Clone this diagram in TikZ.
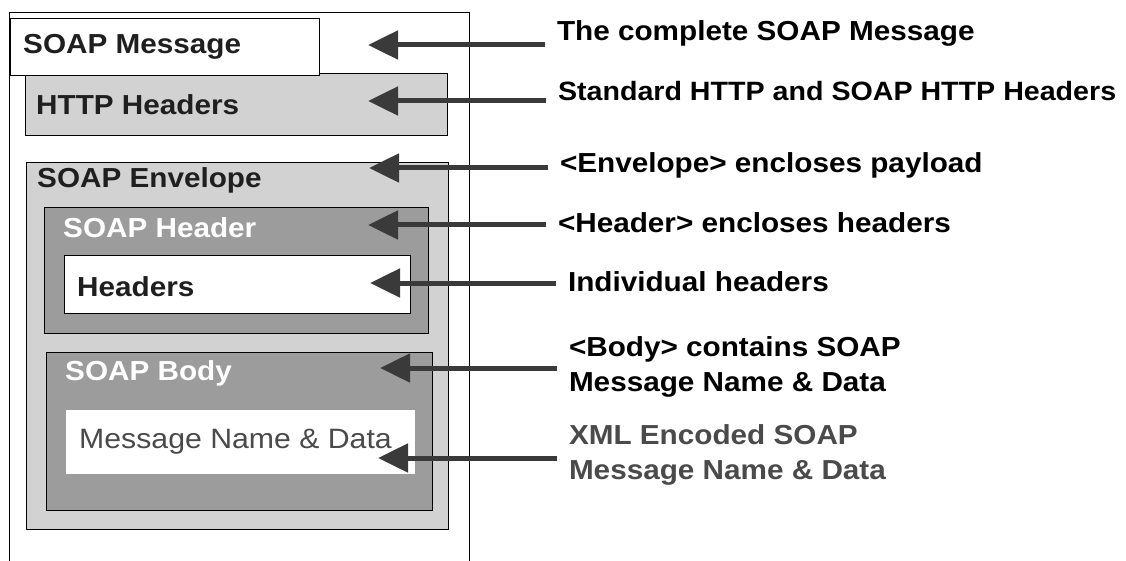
\documentclass[tikz,border=0pt]{standalone}
\usepackage{fontspec}
\setmainfont[FakeStretch=1.08]{Liberation Sans}
\usetikzlibrary{arrows.meta}

\definecolor{papergray}{HTML}{D2D2D2}
\definecolor{boxgray}{HTML}{9C9C9C}
\definecolor{inkgray}{HTML}{3A3A3A}
\definecolor{xmlgray}{HTML}{4A4A4A}

\newcommand{\labfont}{\fontsize{27.5}{35}\selectfont\bfseries}

\tikzset{
  txt/.style={anchor=west, inner sep=0pt, font=\labfont, text=black!88},
  side/.style={anchor=west, inner sep=0pt, outer xsep=12pt, align=left, font=\labfont},
  pointer/.style={draw=inkgray, line width=5pt, -{Triangle[length=30pt,width=28pt]}},
}

\begin{document}
\begin{tikzpicture}[x=1pt, y=-1pt]
\useasboundingbox (0,0) rectangle (1126,561);

% outer frame, open at the bottom
\draw[thick] (9,561) |- (469,12) -- (469,561);

% nested boxes
\draw[fill=papergray] (25,73) rectangle (447,135);
\draw[fill=white] (10,18) rectangle (319,75);
\draw[fill=papergray] (26,162) rectangle (448,529);
\draw[fill=boxgray] (44,207) rectangle (428,333);
\draw[fill=white] (64,255) rectangle (410,313);
\draw[fill=boxgray] (46,352) rectangle (432,510);
\draw[fill=white, draw=white] (66,410) rectangle (414,473);

\node[txt] (msg) at (23,47) {SOAP Message};
\node[txt] (http) at (36,105) {HTTP Headers};
\node[txt] (env) at (37,180) {SOAP Envelope};
\node[txt, text=white] (hdr) at (63,228) {SOAP Header};
\node[txt] (hdrs) at (77,287) {Headers};
\node[txt, text=white] (body) at (65,373) {SOAP Body};
\node[txt, font=\fontsize{28}{35}\selectfont, text=xmlgray] (data) at (79,442) {Message Name \& Data};

% arrow tips
\coordinate (tmsg) at (368,45);
\coordinate (thttp) at (368,101);
\coordinate (tenv) at (369,168);
\coordinate (thdr) at (368,225);
\coordinate (thdrs) at (370,283);
\coordinate (tbody) at (380,368);
\coordinate (tdata) at (378,458);

% explanations
\node[side] (lmsg) at (545,33) {The complete SOAP Message};
\node[side, font=\fontsize{26.5}{35}\selectfont\bfseries] (lhttp) at (546,91) {Standard HTTP and SOAP HTTP Headers};
\node[side] (lenv) at (548,165) {<Envelope> encloses payload};
\node[side] (lhdr) at (546,223) {<Header> encloses headers};
\node[side] (lhdrs) at (556,282) {Individual headers};
\node[side] (lbody) at (557,367) {<Body> contains SOAP\\Message Name \& Data};
\node[side, text=xmlgray] (ldata) at (557,455) {XML Encoded SOAP\\Message Name \& Data};

\draw[pointer] (lmsg.west |- tmsg) -- (tmsg);
\draw[pointer] (lhttp.west |- thttp) -- (thttp);
\draw[pointer] (lenv.west |- tenv) -- (tenv);
\draw[pointer] (lhdr.west |- thdr) -- (thdr);
\draw[pointer] (lhdrs.west |- thdrs) -- (thdrs);
\draw[pointer] (lbody.west |- tbody) -- (tbody);
\draw[pointer] (ldata.west |- tdata) -- (tdata);

\end{tikzpicture}
\end{document}
